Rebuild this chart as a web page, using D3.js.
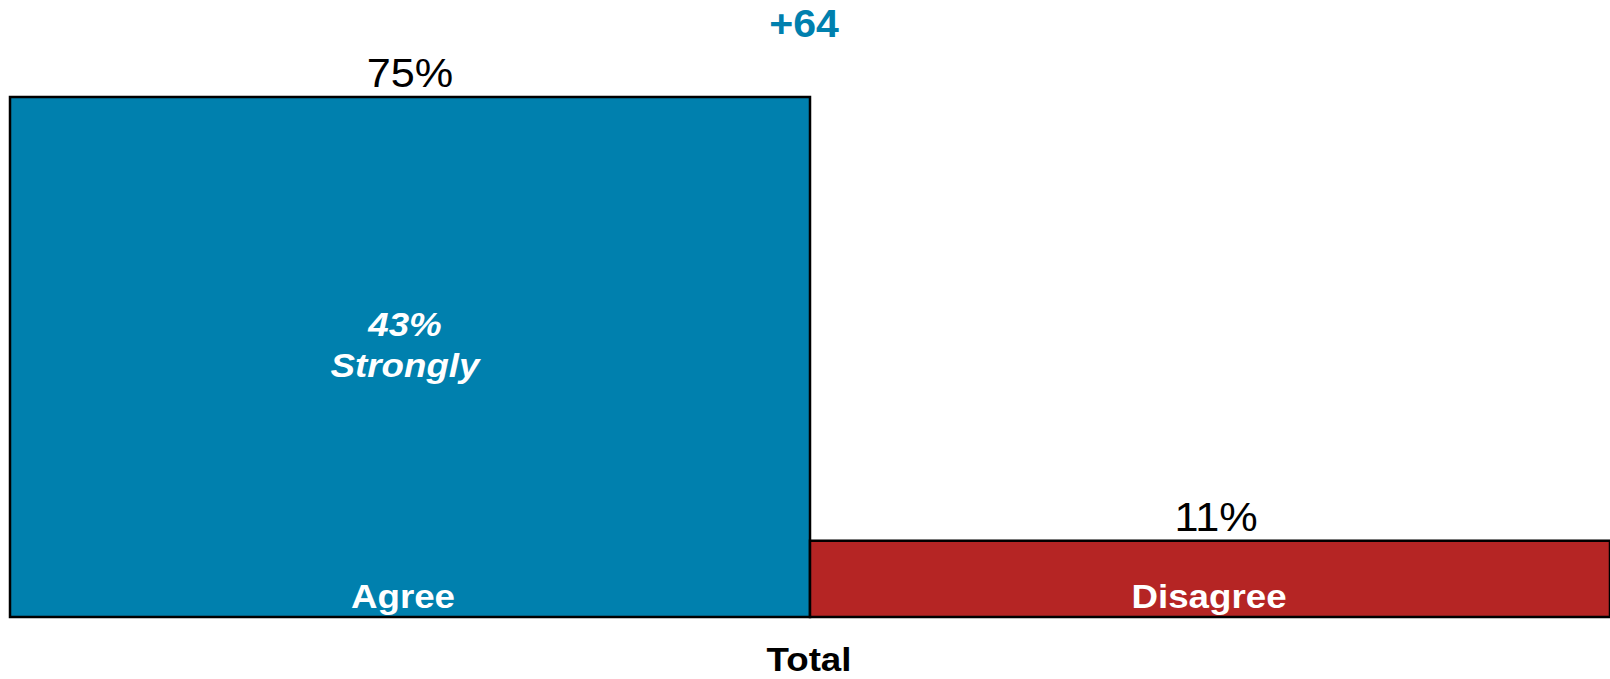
<!DOCTYPE html>
<html>
<head>
<meta charset="utf-8">
<script src="https://cdn.jsdelivr.net/npm/d3@7"></script>
<style>
  html, body { margin: 0; padding: 0; background: #fff; }
  svg { display: block; font-family: "Liberation Sans", Arial, sans-serif; }
</style>
</head>
<body>
<div id="chart"></div>
<script>
// chart data
const categories = ["Agree", "Disagree"];
const values = [75, 11];
const colors = ["#0080AE", "#B52524"];
const strongAgree = 43;
const netLabel = "+64";
const groupLabel = "Total";

const SVG_WIDTH = 1610;
const SVG_HEIGHT = 679;
const margin = { top: 97, right: 0, bottom: 62, left: 10 };
const baseY = SVG_HEIGHT - margin.bottom;
// text in the original is a bit wider than Arial at the same height
const stretch = 1.08;
const place = (px, py) => `translate(${px},${py}) scale(${stretch},1)`;

const svg = d3.select("#chart")
  .append("svg")
  .attr("width", SVG_WIDTH)
  .attr("height", SVG_HEIGHT);

// x: one band per category, no gap
const x = d3.scaleBand()
  .domain(categories)
  .range([margin.left, SVG_WIDTH - margin.right])
  .padding(0);

// y: tallest bar reaches the top margin
const y = d3.scaleLinear()
  .domain([0, d3.max(values)])
  .range([baseY, margin.top]);

const data = categories.map((c, i) => ({ cat: c, value: values[i], color: colors[i] }));

// bars
svg.selectAll("rect.bar")
  .data(data)
  .enter()
  .append("rect")
  .attr("class", "bar")
  .attr("x", d => x(d.cat))
  .attr("y", d => y(d.value))
  .attr("width", x.bandwidth())
  .attr("height", d => baseY - y(d.value))
  .style("fill", d => d.color)
  .style("stroke", "#000")
  .style("stroke-width", 2.5);

// value labels above bars
svg.selectAll("text.value")
  .data(data)
  .enter()
  .append("text")
  .attr("class", "value")
  .attr("transform", (d, i) => place(x(d.cat) + x.bandwidth() / 2 + i * 6, y(d.value) - 10))
  .attr("text-anchor", "middle")
  .style("font-size", "40px")
  .style("fill", "#000")
  .text(d => d.value + "%");

// category labels inside bars
svg.selectAll("text.cat")
  .data(data)
  .enter()
  .append("text")
  .attr("class", "cat")
  .attr("transform", (d, i) => place(x(d.cat) + x.bandwidth() / 2 - 7 + i * 6, baseY - 9))
  .attr("text-anchor", "middle")
  .style("font-size", "34px")
  .style("font-weight", "bold")
  .style("fill", "#fff")
  .text(d => d.cat);

// strongly agree note inside the agree bar
const strong = svg.append("text")
  .attr("transform", place(x(categories[0]) + x.bandwidth() / 2 - 5, y(strongAgree) + 17))
  .attr("text-anchor", "middle")
  .style("font-size", "34px")
  .style("font-weight", "bold")
  .style("font-style", "italic")
  .style("fill", "#fff");
strong.append("tspan").attr("x", 0).text(strongAgree + "%");
strong.append("tspan")
  .attr("x", 0)
  .attr("dy", 41)
  .text("Strongly");

// net score
svg.append("text")
  .attr("transform", place(x(categories[1]) - 6, 37))
  .attr("text-anchor", "middle")
  .style("font-size", "38px")
  .style("font-weight", "bold")
  .style("fill", colors[0])
  .text(netLabel);

// group axis label
svg.append("text")
  .attr("transform", place((margin.left + SVG_WIDTH - margin.right) / 2 - 1, 671))
  .attr("text-anchor", "middle")
  .style("font-size", "34px")
  .style("font-weight", "bold")
  .style("fill", "#000")
  .text(groupLabel);
</script>
</body>
</html>
